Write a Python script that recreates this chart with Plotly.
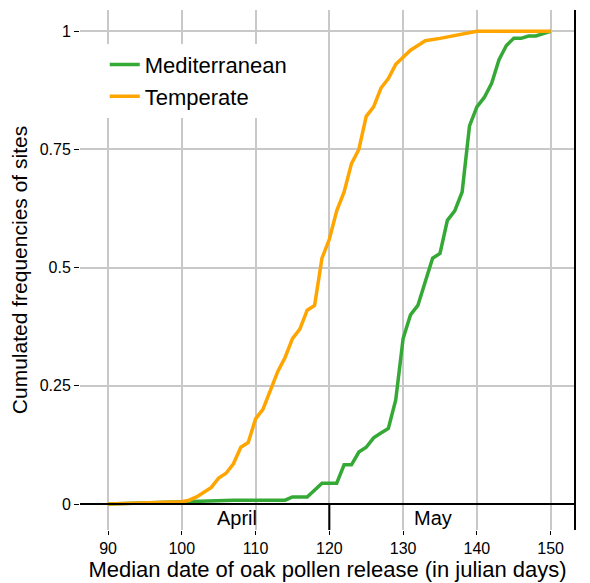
import plotly.graph_objects as go

temp_x = [90, 95, 100, 101, 102, 103, 104, 105, 106, 107, 108, 109, 110, 111, 112, 113, 114, 115, 116, 117, 118, 119, 120, 121, 122, 123, 124, 125, 126, 127, 128, 129, 130, 131, 132, 133, 135, 138, 140, 150]
temp_y = [0, 0.002, 0.005, 0.008, 0.015, 0.025, 0.035, 0.055, 0.065, 0.085, 0.12, 0.13, 0.18, 0.2, 0.24, 0.28, 0.31, 0.35, 0.37, 0.41, 0.42, 0.52, 0.56, 0.62, 0.66, 0.72, 0.75, 0.82, 0.84, 0.88, 0.90, 0.93, 0.945, 0.96, 0.97, 0.98, 0.985, 0.995, 1.0, 1.0]
med_x = [90, 107, 114, 115, 117, 118, 119, 121, 122, 123, 124, 125, 126, 127, 128, 129, 130, 131, 132, 133, 134, 135, 136, 137, 138, 139, 140, 141, 142, 143, 144, 145, 146, 147, 148, 149, 150]
med_y = [0, 0.008, 0.008, 0.015, 0.015, 0.03, 0.044, 0.044, 0.083, 0.083, 0.11, 0.12, 0.14, 0.15, 0.16, 0.22, 0.35, 0.40, 0.42, 0.47, 0.52, 0.53, 0.60, 0.62, 0.66, 0.80, 0.84, 0.86, 0.89, 0.94, 0.97, 0.985, 0.985, 0.99, 0.99, 0.995, 1.0]

fig = go.Figure()
fig.add_trace(go.Scatter(x=med_x, y=med_y, mode="lines", name="Mediterranean",
                         line=dict(color="#35A935", width=3.5)))
fig.add_trace(go.Scatter(x=temp_x, y=temp_y, mode="lines", name="Temperate",
                         line=dict(color="#FFA500", width=3.5)))

fig.add_shape(type="line", xref="paper", x0=0, x1=1, yref="y", y0=0, y1=0, line=dict(color="black", width=2))
fig.add_shape(type="line", x0=120, x1=120, y0=-0.055, y1=0, line=dict(color="black", width=2))
fig.add_shape(type="line", xref="paper", x0=1, x1=1, yref="paper", y0=0, y1=1, line=dict(color="black", width=2))
fig.add_annotation(x=107.5, y=-0.029, text="April", showarrow=False, font=dict(size=20, color="black"))
fig.add_annotation(x=134, y=-0.029, text="May", showarrow=False, font=dict(size=20, color="black"))

fig.update_layout(
    width=590, height=583, plot_bgcolor="white", paper_bgcolor="white",
    margin=dict(l=72, r=23, t=2, b=61),
    font=dict(family="Liberation Sans, Arial", size=16, color="black"),
    legend=dict(x=0.05, y=0.935, xanchor="left", yanchor="top", font=dict(size=22),
                bgcolor="rgba(255,255,255,1)", tracegroupgap=0),
    xaxis=dict(range=[86.2, 153.3], tickvals=[90, 100, 110, 120, 130, 140, 150],
               showgrid=True, gridcolor="#c8c8c8", gridwidth=1.5, zeroline=False,
               ticks="outside", ticklen=4, tickcolor="black", automargin=False,
               title=dict(text="Median date of oak pollen release (in julian days)", font=dict(size=22), standoff=0)),
    yaxis=dict(range=[-0.055, 1.045], tickvals=[0, 0.25, 0.5, 0.75, 1],
               ticktext=["0", "0.25", "0.5", "0.75", "1"],
               showgrid=True, gridcolor="#c8c8c8", gridwidth=1.5, zeroline=False,
               ticks="outside", ticklen=5, tickcolor="black", automargin=False,
               title=dict(text="Cumulated frequencies of sites", font=dict(size=21), standoff=8)),
)
fig.write_html("out.html")
